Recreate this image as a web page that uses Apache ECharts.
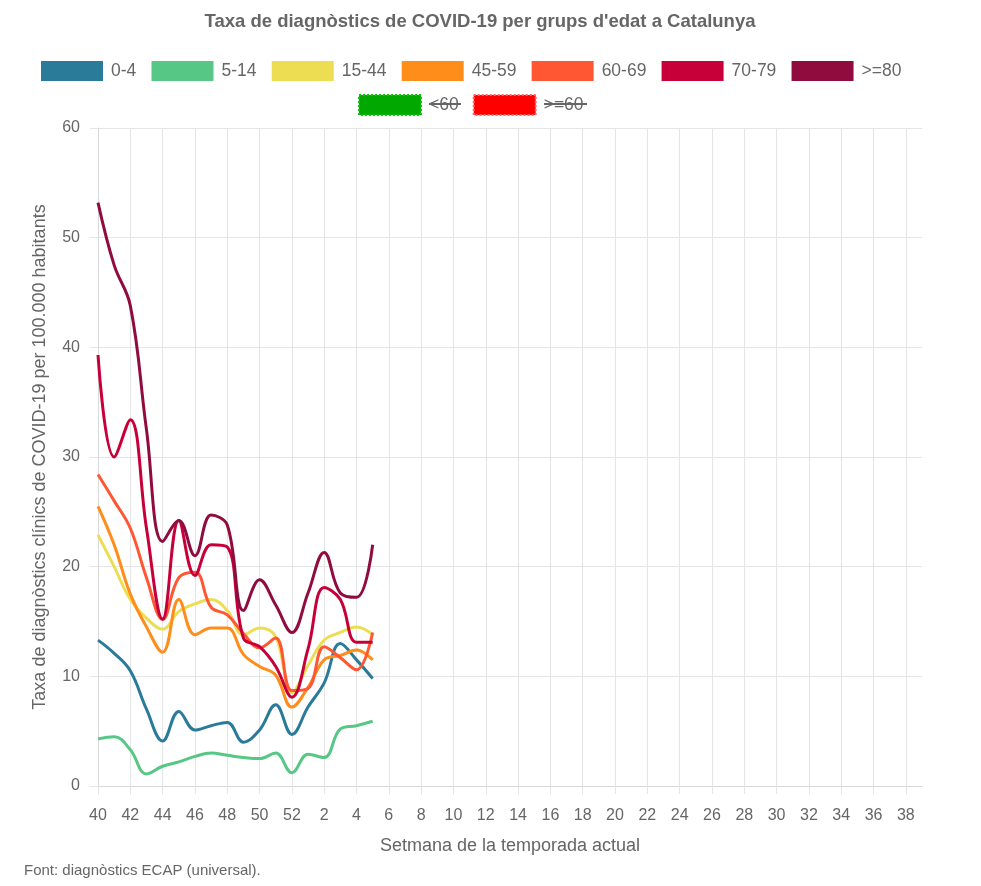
<!DOCTYPE html>
<html>
<head>
<meta charset="utf-8">
<script src="https://cdn.jsdelivr.net/npm/echarts@6/dist/echarts.min.js"></script>
<style>
html,body{margin:0;padding:0;background:#fff;}
#chart{width:981px;height:886px;}
</style>
</head>
<body>
<div id="chart"></div>
<script>
var weeks = ['40','41','42','43','44','45','46','47','48','49','50','51','52',
  '1','2','3','4','5','6','7','8','9','10','11','12','13','14','15','16','17','18','19','20',
  '21','22','23','24','25','26','27','28','29','30','31','32','33','34','35','36','37','38','39'];

var age0_4   = [13.3,12.1,10.5,7.0,4.1,6.8,5.1,5.5,5.8,4.0,5.1,7.4,4.7,7.2,9.4,13.0,11.5,9.8];
var age5_14  = [4.3,4.5,3.3,1.1,1.8,2.2,2.7,3.0,2.8,2.6,2.5,3.0,1.2,2.9,2.6,5.2,5.5,5.9];
var age15_44 = [22.9,20.0,17.0,15.3,14.3,15.9,16.6,17.0,16.0,13.8,14.4,13.6,8.5,11.0,13.3,14.0,14.5,13.8];
var age45_59 = [25.5,22.0,17.5,14.5,12.2,17.0,13.8,14.4,14.4,12.0,10.9,10.1,7.2,9.0,11.5,11.9,12.4,11.5];
var age60_69 = [28.4,26.0,23.5,19.0,15.2,19.0,19.5,16.3,15.6,13.9,12.6,13.5,8.7,8.9,12.7,11.7,10.6,14.0];
var age70_79 = [39.3,30.0,33.4,23.5,15.2,24.2,19.2,22.0,21.8,13.5,12.7,10.9,8.1,12.5,18.1,17.0,13.1,13.1];
var age80    = [53.2,47.5,43.8,32.5,22.3,24.2,21.0,24.7,23.8,16.0,18.8,16.5,14.0,17.6,21.3,17.6,17.2,22.0];
var lt60 = [];
var ge60 = [];

var names  = ['0-4','5-14','15-44','45-59','60-69','70-79','>=80'];
var colors = ['#2a7a99','#57c785','#eddd53','#ff8d1a','#ff5733','#c70039','#900c3f'];
var values = [age0_4, age5_14, age15_44, age45_59, age60_69, age70_79, age80];

var series = names.map(function(n, i){
  return {
    name: n, type: 'line', data: values[i], smooth: 0.4,
    showSymbol: false, symbol: 'none',
    lineStyle: {color: colors[i], width: 3},
    itemStyle: {color: colors[i]},
    emphasis: {disabled: true}
  };
});
series.push({name:'<60', type:'line', data: lt60, showSymbol:false,
  itemStyle:{color:'#00a800'}, lineStyle:{color:'#00a800', width:3}});
series.push({name:'>=60', type:'line', data: ge60, showSymbol:false,
  itemStyle:{color:'#ff0000'}, lineStyle:{color:'#ff0000', width:3}});

var font = 'Liberation Sans, Arial, Helvetica, sans-serif';
var chart = echarts.init(document.getElementById('chart'), null, {renderer:'canvas'});
chart.setOption({
  animation: false,
  backgroundColor: '#fff',
  title: {
    text: "Taxa de diagnòstics de COVID-19 per grups d'edat a Catalunya",
    left: 480, top: 12, textAlign: 'center', padding: 0,
    textStyle: {fontFamily: font, fontSize: 18.5, fontWeight: 'bold', color: '#666'}
  },
  legend: [{
    data: names,
    left: 41, top: 61, padding: 0,
    icon: 'rect', itemWidth: 62, itemHeight: 20, itemGap: 15.2,
    textStyle: {fontFamily: font, fontSize: 17.5, color: '#666', padding: [0,0,0,3]},
    selectedMode: false
  },{
    data: [
      {name:'<60', itemStyle:{color:'#00a800', borderColor:'#00cc00', borderWidth:2, borderType:'dotted'}},
      {name:'>=60', itemStyle:{color:'#ff0000', borderColor:'#ff6666', borderWidth:2, borderType:'dotted'}}
    ],
    left: 358, top: 94, padding: 0,
    icon: 'rect', itemWidth: 62, itemHeight: 20, itemGap: 14,
    textStyle: {fontFamily: font, fontSize: 17.5, color: '#666', padding: [0,0,0,3]},
    selectedMode: false
  }],
  grid: {left: 98, right: 59, top: 128, bottom: 100, containLabel: false},
  xAxis: {
    type: 'category', data: weeks, boundaryGap: false,
    name: 'Setmana de la temporada actual', nameLocation: 'middle', nameGap: 51,
    nameTextStyle: {fontFamily: font, fontSize: 18, color: '#666'},
    axisLine: {lineStyle: {color: '#d9d9d9', width: 1}},
    axisTick: {show: true, interval: 1, length: 8, lineStyle: {color: '#e5e5e5'}},
    axisLabel: {interval: 1, fontFamily: font, fontSize: 16, color: '#666', margin: 22},
    splitLine: {show: true, interval: 1, lineStyle: {color: '#e5e5e5', width: 1}}
  },
  yAxis: {
    type: 'value', min: 0, max: 60, interval: 10,
    name: 'Taxa de diagnòstics clínics de COVID-19 per 100.000 habitants',
    nameLocation: 'middle', nameGap: 49, nameRotate: 90,
    nameTextStyle: {fontFamily: font, fontSize: 18, color: '#666'},
    axisLine: {show: true, lineStyle: {color: '#d9d9d9', width: 1}},
    axisTick: {show: true, length: 8, lineStyle: {color: '#e5e5e5'}},
    axisLabel: {fontFamily: font, fontSize: 16, color: '#666', margin: 18},
    splitLine: {show: true, lineStyle: {color: '#e5e5e5', width: 1}}
  },
  graphic: [
    {type:'line', shape:{x1:429, y1:104, x2:461, y2:104}, style:{stroke:'#666', lineWidth:2}, silent:true},
    {type:'line', shape:{x1:544, y1:104, x2:587, y2:104}, style:{stroke:'#666', lineWidth:2}, silent:true},
    {type:'text', left: 24, top: 863, style:{text:'Font: diagnòstics ECAP (universal).', font:'15px Liberation Sans, Arial, sans-serif', fill:'#666'}}
  ],
  series: series
});
</script>
</body>
</html>
